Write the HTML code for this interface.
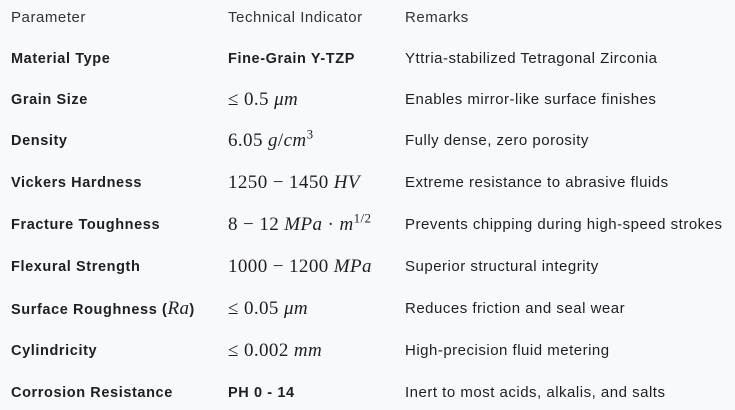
<!DOCTYPE html>
<html><head><meta charset="utf-8"><style>
body{margin:0;background:#f8f9fc;width:735px;height:410px;overflow:hidden;font-family:"Liberation Sans",sans-serif;color:#1f1f1f;}
.r{position:absolute;left:0;width:735px;height:20px;line-height:20px;font-size:15px;letter-spacing:0.5px;white-space:nowrap}
.r span{position:absolute;top:0}
.a{left:11px}.b{left:228px}.c{left:405px}
.h{color:#333;font-size:15px;letter-spacing:0.55px}
.bd{font-weight:bold;font-size:14.5px;letter-spacing:0.6px}
.m{font-family:"Liberation Serif",serif;font-style:normal;font-size:19px;letter-spacing:0.4px}
.m i{font-style:italic}
sup{font-size:13px;line-height:0}
</style></head><body>
<div class="r h" style="top:8px"><span class="a">Parameter</span><span class="b">Technical Indicator</span><span class="c">Remarks</span></div>
<div class="r" style="top:49px"><span class="a bd">Material Type</span><span class="b bd">Fine-Grain Y-TZP</span><span class="c">Yttria-stabilized Tetragonal Zirconia</span></div>
<div class="r" style="top:90px"><span class="a bd">Grain Size</span><span class="b m">≤ 0.5 <i>μm</i></span><span class="c">Enables mirror-like surface finishes</span></div>
<div class="r" style="top:131px"><span class="a bd">Density</span><span class="b m">6.05 <i>g</i>/<i>cm</i><sup>3</sup></span><span class="c">Fully dense, zero porosity</span></div>
<div class="r" style="top:173px"><span class="a bd">Vickers Hardness</span><span class="b m">1250 − 1450 <i>HV</i></span><span class="c">Extreme resistance to abrasive fluids</span></div>
<div class="r" style="top:215px"><span class="a bd">Fracture Toughness</span><span class="b m">8 − 12 <i>MPa</i> · <i>m</i><sup>1/2</sup></span><span class="c">Prevents chipping during high-speed strokes</span></div>
<div class="r" style="top:257px"><span class="a bd">Flexural Strength</span><span class="b m">1000 − 1200 <i>MPa</i></span><span class="c">Superior structural integrity</span></div>
<div class="r" style="top:299px"><span class="a bd">Surface Roughness (<span class="m" style="position:static;font-weight:normal"><i>Ra</i></span>)</span><span class="b m">≤ 0.05 <i>μm</i></span><span class="c">Reduces friction and seal wear</span></div>
<div class="r" style="top:341px"><span class="a bd">Cylindricity</span><span class="b m">≤ 0.002 <i>mm</i></span><span class="c">High-precision fluid metering</span></div>
<div class="r" style="top:383px"><span class="a bd">Corrosion Resistance</span><span class="b bd">PH 0 - 14</span><span class="c">Inert to most acids, alkalis, and salts</span></div>
</body></html>
